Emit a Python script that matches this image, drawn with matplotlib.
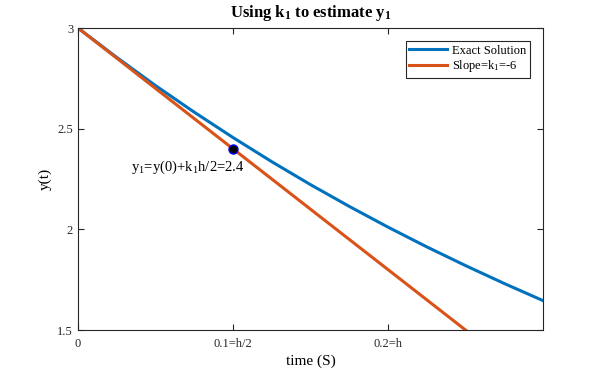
import matplotlib
matplotlib.use('Agg')
import matplotlib.pyplot as plt

# exact solution
t_exact = [0, 0.025, 0.05, 0.075, 0.1, 0.125, 0.15, 0.175, 0.2, 0.225, 0.25, 0.275, 0.3]
y_exact = [3.0, 2.854, 2.714, 2.582, 2.456, 2.336, 2.222, 2.114, 2.011, 1.913, 1.820, 1.731, 1.646]

# slope line k1 = -6
t_slope = [0, 0.25]
y_slope = [3.0, 1.5]

t_pt = 0.1
y_pt = 2.4

xticks = [0, 0.1, 0.2]
xticklabels = ['0', '0.1=h/2', '0.2=h']
yticks = [1.5, 2, 2.5, 3]
yticklabels = ['1.5', '2', '2.5', '3']

plt.rcParams['font.family'] = 'Liberation Serif'
plt.rcParams['mathtext.fontset'] = 'custom'
plt.rcParams['mathtext.rm'] = 'Liberation Serif'
plt.rcParams['mathtext.it'] = 'Liberation Serif'
plt.rcParams['mathtext.bf'] = 'Liberation Serif:bold'

fig = plt.figure(figsize=(6, 3.71), dpi=100)
ax = fig.add_axes([0.13, 0.1105, 0.775, 0.814])

ax.plot(t_exact, y_exact, color='#0072BD', lw=2.2, label='Exact Solution')
ax.plot(t_slope, y_slope, color='#D95319', lw=2.2, label=r'Slope=k$_\mathregular{1}$=-6')
ax.plot(t_pt, y_pt, 'o', ms=6.5, mfc='black', mec='#0000FF', mew=1)
ax.text(0.0345, 2.31, r'y$_\mathregular{1}$=y(0)+k$_\mathregular{1}$h/2=2.4', fontsize=10.5, va='center')

ax.set_xlim(0, 0.3)
ax.set_ylim(1.5, 3)
ax.set_xticks(xticks)
ax.set_xticklabels(xticklabels)
ax.set_yticks(yticks)
ax.set_yticklabels(yticklabels)
ax.tick_params(direction='in', top=True, right=True, labelsize=9, colors='#262626', color='#262626', length=4)
ax.tick_params(axis='x', pad=6)
for s in ax.spines.values():
    s.set_color('#262626')
    s.set_linewidth(0.8)

ax.set_xlabel('time (S)', fontsize=11, labelpad=3)
ax.set_ylabel('y(t)', fontsize=11)
ax.set_title(r'Using k$_\mathbf{1}$ to estimate y$_\mathbf{1}$', fontsize=12, fontweight='bold', pad=8)

leg = ax.legend(loc='upper right', fontsize=9, fancybox=False, framealpha=1,
                edgecolor='#262626', handlelength=3, handletextpad=0.4, borderpad=0.3,
                labelspacing=0.1, bbox_to_anchor=(0.985, 0.978))
leg.get_frame().set_linewidth(0.8)

fig.savefig('out.png', dpi=100)
